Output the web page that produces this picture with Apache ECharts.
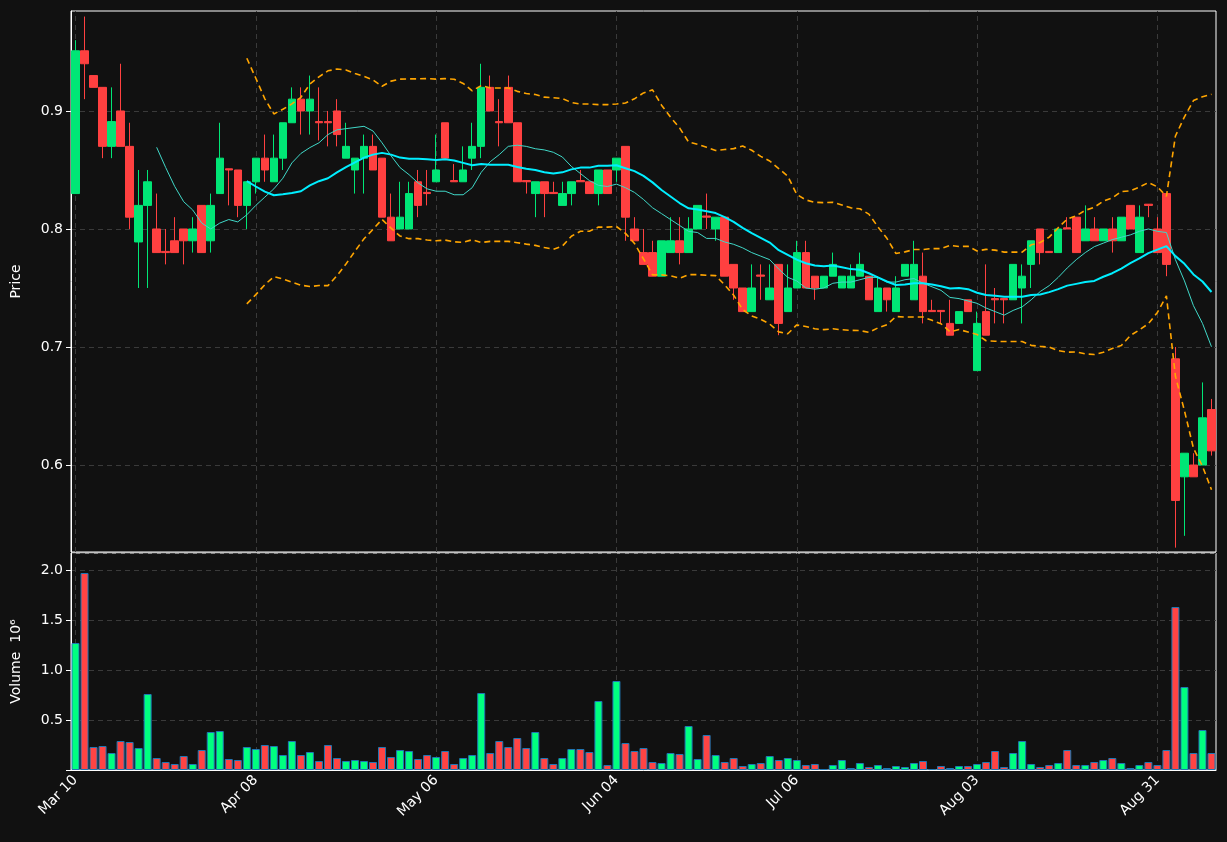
<!DOCTYPE html>
<html><head><meta charset="utf-8">
<script src="https://cdn.jsdelivr.net/npm/echarts@6/dist/echarts.min.js"></script>
<style>html,body{margin:0;padding:0;background:#111111;}#c{width:1227px;height:842px;}</style>
</head><body><div id="c"></div>
<script>
const tickLabels = ['Mar 10','Apr 08','May 06','Jun 04','Jul 06','Aug 03','Aug 31'];
const priceTicks = [0.6, 0.7, 0.8, 0.9];
const open = [.83,.951,.93,.92,.87,.90,.87,.789,.82,.80,.781,.79,.80,.79,.82,.79,.83,.851,.85,.82,
.84,.86,.84,.86,.89,.91,.90,.891,.891,.90,.86,.85,.86,.87,.86,.81,.80,.80,.84,.831,
.84,.89,.841,.84,.86,.87,.92,.891,.92,.89,.841,.83,.84,.831,.82,.83,.841,.84,.83,.85,
.85,.87,.80,.78,.78,.76,.78,.79,.78,.80,.811,.80,.81,.77,.75,.73,.761,.74,.77,.73,
.75,.78,.76,.75,.76,.75,.75,.76,.76,.73,.75,.73,.76,.74,.76,.731,.731,.72,.72,.74,
.68,.73,.741,.741,.74,.75,.77,.80,.781,.78,.801,.81,.79,.80,.79,.80,.79,.82,.78,.821,
.80,.83,.69,.59,.60,.60,.647];
const close = [.951,.94,.92,.87,.891,.87,.81,.82,.84,.78,.78,.78,.79,.80,.78,.82,.86,.85,.82,.84,
.86,.85,.86,.89,.91,.90,.91,.89,.89,.88,.87,.86,.87,.85,.81,.79,.81,.83,.82,.83,
.85,.86,.84,.85,.87,.92,.90,.89,.89,.84,.84,.84,.83,.83,.83,.84,.84,.83,.85,.83,
.86,.81,.79,.77,.76,.79,.79,.78,.80,.82,.81,.81,.76,.75,.73,.75,.76,.75,.72,.75,
.78,.75,.75,.76,.77,.76,.76,.77,.74,.75,.74,.75,.77,.77,.73,.73,.73,.71,.73,.73,
.72,.71,.74,.74,.77,.76,.79,.78,.78,.80,.80,.78,.80,.79,.80,.79,.81,.80,.81,.82,
.78,.77,.57,.61,.59,.64,.612];
const low = [.83,.91,.92,.86,.86,.87,.80,.75,.75,.78,.77,.78,.77,.78,.78,.78,.83,.82,.81,.80,
.83,.84,.84,.85,.89,.88,.88,.875,.87,.87,.86,.83,.83,.85,.81,.79,.80,.80,.81,.82,
.84,.86,.84,.84,.85,.86,.90,.87,.89,.84,.83,.81,.81,.83,.82,.82,.84,.83,.82,.83,
.84,.79,.79,.77,.76,.76,.78,.77,.78,.80,.80,.79,.76,.74,.73,.73,.74,.74,.71,.73,
.75,.75,.74,.75,.76,.75,.75,.76,.74,.73,.73,.73,.76,.74,.72,.73,.72,.71,.72,.73,
.68,.71,.72,.72,.74,.72,.75,.77,.78,.78,.80,.78,.79,.79,.79,.78,.79,.80,.78,.81,
.78,.76,.53,.54,.59,.60,.608];
const high = [.96,.98,.93,.92,.92,.94,.89,.85,.85,.83,.80,.81,.80,.81,.82,.83,.89,.85,.85,.84,
.86,.88,.88,.89,.92,.92,.93,.92,.90,.91,.89,.86,.88,.88,.86,.83,.84,.84,.85,.85,
.88,.89,.855,.87,.89,.94,.93,.91,.93,.89,.84,.84,.84,.84,.84,.84,.85,.84,.85,.85,
.86,.87,.81,.80,.79,.79,.81,.81,.81,.82,.83,.81,.81,.77,.75,.77,.77,.77,.77,.77,
.79,.79,.76,.76,.78,.76,.77,.78,.76,.76,.75,.76,.77,.79,.78,.74,.73,.74,.73,.74,
.73,.77,.75,.74,.77,.77,.79,.80,.78,.80,.81,.81,.82,.81,.80,.81,.81,.82,.82,.82,
.81,.83,.70,.61,.61,.67,.656];
const volume = [1.27,1.97,.23,.24,.17,.29,.28,.22,.76,.12,.08,.06,.14,.06,.20,.38,.39,.11,.10,.23,
.21,.25,.24,.15,.29,.15,.18,.09,.25,.12,.09,.10,.09,.08,.23,.13,.20,.19,.11,.15,
.13,.19,.06,.12,.15,.77,.17,.29,.23,.32,.22,.38,.12,.06,.12,.21,.21,.18,.69,.05,
.89,.27,.19,.22,.08,.07,.17,.16,.44,.11,.35,.15,.08,.12,.04,.06,.07,.14,.10,.12,
.10,.05,.06,.01,.05,.10,.02,.07,.03,.05,.02,.04,.03,.07,.09,.01,.04,.02,.04,.04,
.06,.08,.19,.03,.17,.29,.06,.03,.05,.07,.20,.05,.05,.08,.10,.12,.07,.02,.05,.08,
.05,.20,1.63,.83,.17,.40,.17];

const categories = close.map((_, i) => String(i));
const tickIdx = tickLabels.map((_, k) => String(k * 20));
const candle = close.map((c, i) => [open[i], c, low[i], high[i]]);
function ma(n){ return close.map((_, i) => { if (i < n-1) return '-'; let s=0; for(let k=i-n+1;k<=i;k++) s+=close[k]; return +(s/n).toFixed(4); }); }
function boll(n, m, sign){ return close.map((_, i) => { if (i < n-1) return '-'; let s=0; for(let k=i-n+1;k<=i;k++) s+=close[k]; const mu=s/n; let v=0; for(let k=i-n+1;k<=i;k++) v+=(close[k]-mu)**2; return +(mu+sign*m*Math.sqrt(v/n)).toFixed(4); }); }
const GREEN='#00e676', RED='#ff4040';
const volData = volume.map((v, i) => ({ value: v, itemStyle: { color: close[i] >= open[i] ? '#00ff80' : '#ff4444' } }));
const gridLine = { color: '#3a3a3a', type: [5,4], width: 1 };
const vLines = tickIdx.map(x => ({ xAxis: x }));
const empty = close.map(() => '-');

const lbl = { color: '#ffffff', fontSize: 14, fontFamily: 'DejaVu Sans' };
const chart = echarts.init(document.getElementById('c'));
chart.setOption({
  backgroundColor: '#111111',
  animation: false,
  grid: [
    { left: 71, right: 11, top: 11, height: 541, show: true, borderColor: '#ffffff', borderWidth: 1 },
    { left: 71, right: 11, top: 553, height: 217, show: true, borderColor: '#ffffff', borderWidth: 1 }
  ],
  xAxis: [
    { type: 'category', data: categories, gridIndex: 0, boundaryGap: true,
      axisLine: { show: false }, axisTick: { show: false }, axisLabel: { show: false }, splitLine: { show: false } },
    { type: 'category', data: categories, gridIndex: 1, boundaryGap: true,
      axisLine: { lineStyle: { color: '#ffffff' } },
      axisTick: { alignWithLabel: true, interval: (i) => i % 20 === 0, length: 5, lineStyle: { color: '#fff' } },
      axisLabel: Object.assign({}, lbl, { interval: (i) => i % 20 === 0, rotate: 45, margin: 8, formatter: (v, i) => tickLabels[i/20] }),
      splitLine: { show: false } }
  ],
  yAxis: [
    { gridIndex: 0, min: 0.5263, max: 0.9847,
      name: 'Price', nameLocation: 'middle', nameGap: 48, nameTextStyle: lbl,
      axisLine: { show: true, lineStyle: { color: '#fff' } },
      axisTick: { show: true, length: 5, customValues: priceTicks, lineStyle: { color: '#fff' } },
      axisLabel: Object.assign({}, lbl, { customValues: priceTicks, formatter: v => v.toFixed(1) }),
      splitLine: { show: false } },
    { gridIndex: 1, min: 0, max: 2.17, interval: 0.5,
      name: 'Volume  10⁶', nameLocation: 'middle', nameGap: 48, nameTextStyle: lbl,
      axisLine: { show: true, lineStyle: { color: '#fff' } }, axisTick: { show: true, length: 5, lineStyle: { color: '#fff' } },
      axisLabel: Object.assign({}, lbl, { showMaxLabel: false, formatter: v => v === 0 ? '' : v.toFixed(1) }),
      splitLine: { lineStyle: gridLine } }
  ],
  series: [
    { type: 'line', data: empty, xAxisIndex: 0, yAxisIndex: 0, z: 0, symbol: 'none',
      markLine: { silent: true, z: 0, symbol: 'none', label: { show: false }, lineStyle: gridLine,
        data: priceTicks.map(v => ({ yAxis: v })).concat(vLines) } },
    { type: 'line', data: empty, xAxisIndex: 1, yAxisIndex: 1, z: 0, symbol: 'none',
      markLine: { silent: true, z: 0, symbol: 'none', label: { show: false }, lineStyle: gridLine, data: vLines } },
    { type: 'candlestick', data: candle, xAxisIndex: 0, yAxisIndex: 0, barWidth: 8, z: 2,
      itemStyle: { color: GREEN, color0: RED, borderColor: GREEN, borderColor0: RED, borderWidth: 1 } },
    { type: 'line', data: ma(10), symbol: 'none', lineStyle: { color: '#40d8c8', width: 1 }, z: 3 },
    { type: 'line', data: ma(20), symbol: 'none', lineStyle: { color: '#00eeff', width: 2 }, z: 3 },
    { type: 'line', data: boll(20, 2, 1), symbol: 'none', lineStyle: { color: '#ffa500', width: 1.6, type: [6,4] }, z: 3 },
    { type: 'line', data: boll(20, 2, -1), symbol: 'none', lineStyle: { color: '#ffa500', width: 1.6, type: [6,4] }, z: 3 },
    { type: 'bar', data: volData, xAxisIndex: 1, yAxisIndex: 1, barWidth: 8, z: 2,
      itemStyle: { borderColor: '#1f77b4', borderWidth: 1 } }
  ]
});
</script></body></html>
